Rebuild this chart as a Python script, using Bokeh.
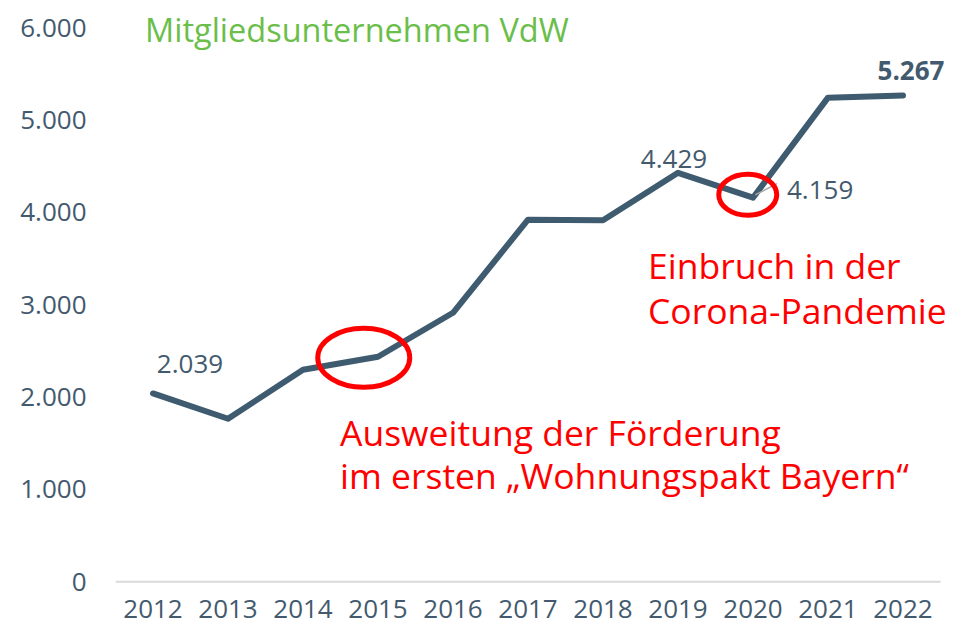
from bokeh.plotting import figure
from bokeh.models import Range1d, FixedTicker, Label
from bokeh.embed import file_html
from bokeh.resources import INLINE

# ---- data ----
years = [2012, 2013, 2014, 2015, 2016, 2017, 2018, 2019, 2020, 2021, 2022]
members = [2039, 1765, 2296, 2437, 2913, 3921, 3915, 4429, 4159, 5243, 5267]
y_ticks = [0, 1000, 2000, 3000, 4000, 5000, 6000]
y_tick_labels = ["0", "1.000", "2.000", "3.000", "4.000", "5.000", "6.000"]
x_tick_labels = [str(y) for y in years]
title_text = "Mitgliedsunternehmen VdW"
note1 = ["Ausweitung der Förderung", "im ersten \u201eWohnungspakt Bayern\u201c"]
note2 = ["Einbruch in der", "Corona-Pandemie"]

FONT = "Open Sans"
TXT = "#435A6E"
LINE = "#3F5B70"
GREEN = "#6BBE4A"
RED = "#FF0000"

def fmt(v):
    return f"{v:,}".replace(",", ".")

p = figure(width=963, height=626, output_backend="svg", toolbar_location=None,
           x_range=Range1d(2011.5, 2022.8067), y_range=Range1d(-30, 6295),
           min_border_left=115, min_border_right=0, min_border_top=0, min_border_bottom=42)
p.outline_line_color = None
p.grid.visible = False
p.background_fill_color = "white"
p.border_fill_color = "white"

# y axis
ya = p.yaxis[0]
ya.ticker = FixedTicker(ticks=y_ticks)
ya.major_label_overrides = {t: l for t, l in zip(y_ticks, y_tick_labels)}
ya.axis_line_color = None
ya.major_tick_line_color = None
ya.minor_tick_line_color = None
ya.major_tick_out = 0
ya.major_tick_in = 0
ya.major_label_standoff = 29
ya.major_label_text_font = FONT
ya.major_label_text_font_size = "26px"
ya.major_label_text_color = TXT

# x axis
xa = p.xaxis[0]
xa.ticker = FixedTicker(ticks=years)
xa.major_label_overrides = {y: l for y, l in zip(years, x_tick_labels)}
xa.axis_line_color = None
xa.major_tick_line_color = None
xa.minor_tick_line_color = None
xa.major_tick_out = 0
xa.major_tick_in = 0
xa.major_label_standoff = 15
xa.major_label_text_font = FONT
xa.major_label_text_font_size = "26px"
xa.major_label_text_color = TXT

# baseline at zero
p.segment(x0=[2011.5], y0=[0], x1=[2022.5], y1=[0], line_color="#D9D9D9", line_width=2)

# main line
p.line(years, members, line_width=6, line_color=LINE, line_join="round", line_cap="round")

# leader line for 2020 label
p.segment(x0=[2020.03], y0=[4190], x1=[2020.32], y1=[4311], line_color="#A6A6A6", line_width=1.5)

# red ellipses
p.ellipse(x=[2014.81, 2019.93], y=[2426, 4191], width=[92, 58], height=[59, 41],
          width_units="screen", height_units="screen",
          fill_color=None, line_color=RED, line_width=5)

# value labels
def vlabel(i, dx, dy, align="center", bold=False):
    p.add_layout(Label(x=years[i], y=members[i], text=fmt(members[i]),
                       x_offset=dx, y_offset=dy, text_align=align, text_baseline="alphabetic",
                       text_font=FONT, text_font_size="26px", text_color=TXT,
                       text_font_style="bold" if bold else "normal"))

vlabel(0, 37, 29)
vlabel(7, -4, 14)
vlabel(8, 34, 8, align="left")
vlabel(10, 8, 25, bold=True)

# title
p.add_layout(Label(x=2011.893, y=5979, text=title_text, text_align="left", text_baseline="alphabetic",
                   text_font=FONT, text_font_size="32.5px", text_color=GREEN))

# red notes
for txt, yy in zip(note1, [1625, 1159]):
    p.add_layout(Label(x=2014.493, y=yy, text=txt, text_align="left", text_baseline="alphabetic",
                       text_font=FONT, text_font_size="35.5px", text_color=RED))
for txt, yy in zip(note2, [3434, 2946]):
    p.add_layout(Label(x=2018.6, y=yy, text=txt, text_align="left", text_baseline="alphabetic",
                       text_font=FONT, text_font_size="35.5px", text_color=RED))

open("out.html", "w").write(file_html(p, INLINE))
